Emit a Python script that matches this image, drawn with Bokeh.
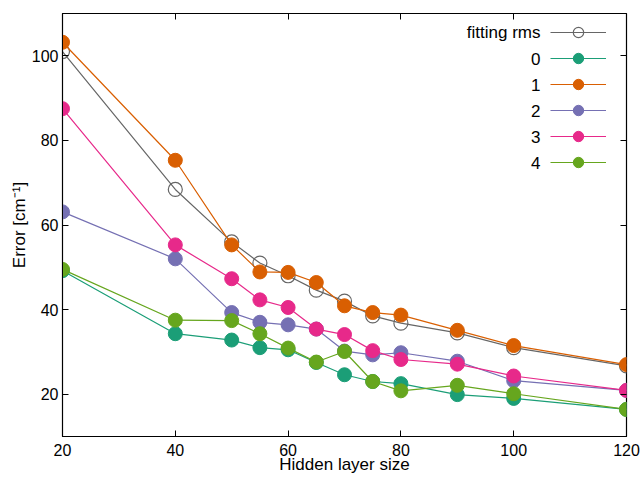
from bokeh.plotting import figure
from bokeh.models import (Range1d, LinearAxis, Legend, LegendItem, FixedTicker,
                          CustomJSTickFormatter, Label)
from bokeh.embed import file_html
from bokeh.resources import INLINE

hidden = [20, 40, 50, 55, 60, 65, 70, 75, 80, 90, 100, 120]
fitting_rms = [101.0, 68.4, 56.0, 51.0, 48.0, 44.6, 42.0, 38.5, 36.8, 34.5, 31.0, 26.7]
s0 = [49.2, 34.3, 32.8, 31.0, 30.5, 27.5, 24.6, 23.0, 22.5, 19.9, 19.0, 16.4]
s1 = [103.2, 75.3, 55.3, 48.9, 48.8, 46.4, 40.9, 39.3, 38.7, 35.1, 31.5, 27.0]
s2 = [63.1, 52.0, 39.3, 37.0, 36.4, 35.4, 30.2, 29.3, 29.8, 27.8, 23.2, 20.9]
s3 = [87.5, 55.3, 47.3, 42.3, 40.5, 35.4, 34.1, 30.3, 28.2, 27.1, 24.3, 20.9]
s4 = [49.5, 37.5, 37.4, 34.3, 30.9, 27.6, 30.1, 23.0, 20.8, 22.1, 20.1, 16.4]

legend_labels = ["fitting rms", "0", "1", "2", "3", "4"]
series_values = [s0, s1, s2, s3, s4]
colors = ["#1b9e77", "#d95f02", "#7570b3", "#e7298a", "#66a61e"]
rms_color = "#666666"
x_ticks = [20, 40, 60, 80, 100, 120]
y_ticks = [20, 40, 60, 80, 100]

FONT = "Liberation Sans"
TICK_FS = "16px"
LABEL_FS = "17px"

W, H = 641, 477
BL, BR, BT, BB = 62, 15, 13, 41
FW, FH = W - BL - BR, H - BT - BB

p = figure(width=W, height=H, output_backend="svg", toolbar_location=None,
           x_range=Range1d(20, 120), y_range=Range1d(10, 110),
           min_border_left=BL, min_border_right=BR, min_border_top=BT, min_border_bottom=BB)
p.grid.visible = False
p.outline_line_color = "black"
p.outline_line_width = 1.2
p.background_fill_color = "white"
p.border_fill_color = "white"

for ax in (p.xaxis[0], p.yaxis[0]):
    ax.major_tick_in = 6
    ax.major_tick_out = 0
    ax.minor_tick_line_color = None
    ax.axis_line_color = "black"
    ax.major_tick_line_color = "black"
    ax.major_label_text_font = FONT
    ax.major_label_text_font_size = TICK_FS
    ax.major_label_text_color = "black"
    ax.axis_label_text_font = FONT
    ax.axis_label_text_font_size = LABEL_FS
    ax.axis_label_text_font_style = "normal"
    ax.axis_label_text_color = "black"

p.xaxis[0].ticker = FixedTicker(ticks=x_ticks)
p.yaxis[0].ticker = FixedTicker(ticks=y_ticks)
p.xaxis[0].axis_label = "Hidden layer size"
p.yaxis[0].axis_label = "Error [cm⁻¹]"
p.xaxis[0].major_label_standoff = 7
p.xaxis[0].axis_label_standoff = -4
p.yaxis[0].major_label_standoff = 4
p.yaxis[0].axis_label_standoff = 0

# mirror ticks (no labels)
blank = CustomJSTickFormatter(code="return ''")
top = LinearAxis(ticker=FixedTicker(ticks=x_ticks), major_tick_in=6, major_tick_out=0,
                 minor_tick_line_color=None, formatter=blank, major_label_standoff=0,
                 major_label_text_font_size="1px", axis_line_color=None)
right = LinearAxis(ticker=FixedTicker(ticks=y_ticks), major_tick_in=6, major_tick_out=0,
                   minor_tick_line_color=None, formatter=blank, major_label_standoff=0,
                   major_label_text_font_size="1px", axis_line_color=None)
p.add_layout(top, "above")
p.add_layout(right, "right")

items = []
lr = p.line(hidden, fitting_rms, line_color=rms_color, line_width=1.2)
sr = p.scatter(hidden, fitting_rms, size=14, marker="circle", fill_color=None,
               line_color=rms_color, line_width=1.2)
items.append(LegendItem(label="", renderers=[lr, sr]))
for vals, col in zip(series_values, colors):
    l = p.line(hidden, vals, line_color=col, line_width=1.2)
    s = p.scatter(hidden, vals, size=14, marker="circle", fill_color=col, line_color=col)
    items.append(LegendItem(label="", renderers=[l, s]))

leg = Legend(items=items, location="top_right", glyph_width=56, glyph_height=26,
             spacing=0, label_width=0, label_height=20, label_standoff=14,
             label_text_font_size="1px",
             border_line_color=None, background_fill_alpha=0,
             padding=0, margin=6)
p.add_layout(leg)

# legend texts, right aligned to the left of the legend glyphs
row_pitch = 26.0
for i, lab in enumerate(legend_labels):
    p.add_layout(Label(x=FW - 86, y=FH - 19 - i * row_pitch, x_units="screen", y_units="screen",
                       text=lab, text_align="right", text_baseline="middle",
                       text_font=FONT, text_font_size=LABEL_FS, text_color="black"))

open("out.html", "w").write(file_html(p, INLINE))
